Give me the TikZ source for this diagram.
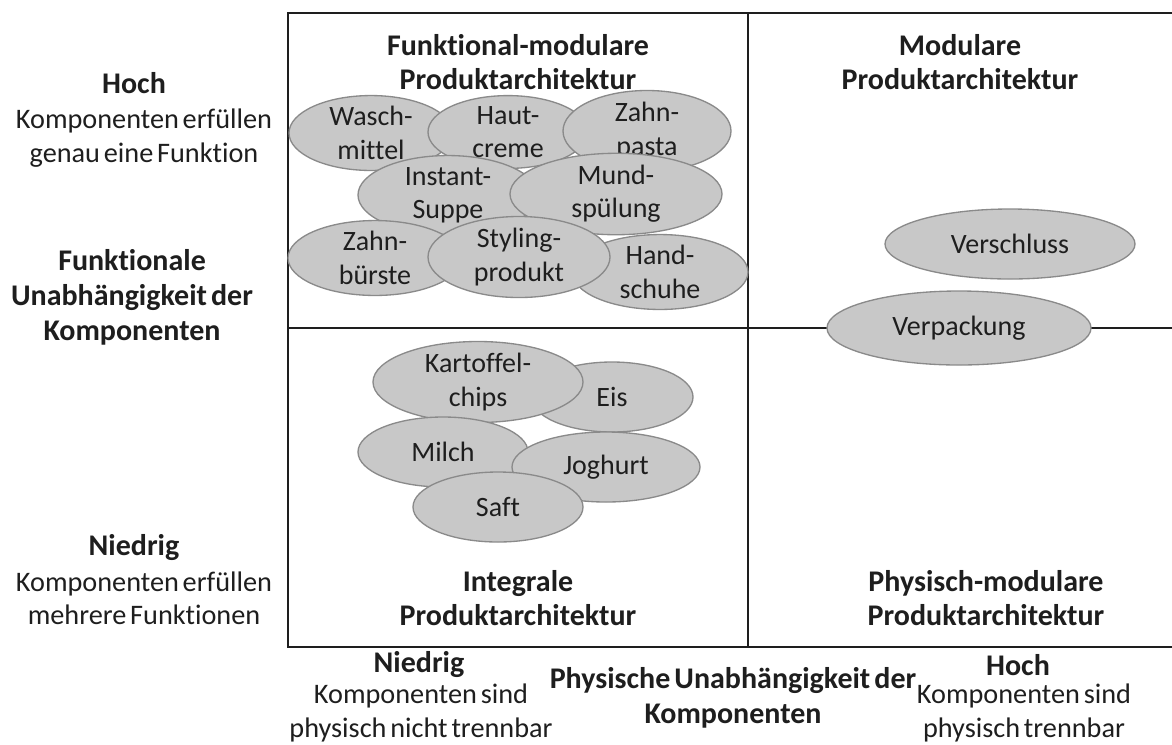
\documentclass[tikz,border=0pt]{standalone}
\usepackage{fontspec}
\setmainfont{Carlito}[Ligatures=CommonOff, WordSpace=0.6]
\usetikzlibrary{shapes.geometric}
\definecolor{ellfill}{HTML}{C8C8C8}
\definecolor{elldraw}{HTML}{8A8A8A}
\definecolor{txt}{HTML}{1E1E1E}
\tikzset{
  frameline/.style={line width=1.5pt, draw=txt},
  elps/.style 2 args={ellipse, draw=elldraw, fill=ellfill, line width=1pt,
    minimum width=#1*1.5pt, minimum height=#2*1.5pt, inner sep=0pt,
    align=center, text=txt, font=\fontsize{21}{25}\selectfont},
  lbl/.style={align=center, text=txt, inner sep=0pt, font=\fontsize{21.2}{25}\selectfont},
  blbl/.style={align=center, text=txt, inner sep=0pt, font=\fontsize{22.5}{25}\selectfont\bfseries},
  axlbl/.style={align=center, text=txt, inner sep=0pt, font=\fontsize{22.5}{26.3}\selectfont\bfseries},
}
\begin{document}
\begin{tikzpicture}[x=0.75pt, y=-0.75pt]
\useasboundingbox (0,0) rectangle (1172,744);
% frame
\coordinate (tl) at (288,13);
\coordinate (tr) at (1172,13);
\coordinate (bl) at (288,647);
\coordinate (br) at (1172,647);
\coordinate (mt) at (748,13);
\coordinate (mb) at (748,647);
\coordinate (ml) at (288,328);
\coordinate (mr) at (1172,328);
\draw[frameline] (tr) -- (tl) -- (bl) -- (br);
\draw[frameline] (mt) -- (mb);
\draw[frameline] (ml) -- (mr);
% quadrant titles
\node[blbl] (qtl) at (518,62) {Funktional-modulare\\Produktarchitektur};
\node[blbl] (qtr) at (960,62) {Modulare\\Produktarchitektur};
\node[blbl] (qbl) at (518,598) {Integrale\\Produktarchitektur};
\node[blbl] (qbr) at (986,598) {Physisch-modulare\\Produktarchitektur};
% top-left ellipses
\node[elps={82}{34}] (wasch) at (371,133) {Wasch-\\mittel};
\node[elps={80}{35}] (haut) at (508,132) {Haut-\\creme};
\node[elps={84}{32}] (zahnp) at (647,131) {Zahn-\\pasta};
\node[elps={90}{35}] (inst) at (448,195) {Instant-\\Suppe};
\node[elps={106}{34}] (mund) at (616,194) {Mund-\\spülung};
\node[elps={87}{35}] (zahnb) at (375,258) {Zahn-\\bürste};
\node[elps={88}{36}] (hand) at (660,272) {Hand-\\schuhe};
\node[elps={91}{35}] (styl) at (519,257) {Styling-\\produkt};
% right ellipses
\node[elps={125}{35}] (versch) at (1010,244) {Verschluss};
\node[elps={132}{37}] (verp) at (959,328) {Verpackung};
% bottom-left ellipses
\node[elps={81}{35}] (eis) at (612,397) {Eis};
\node[elps={105}{35}] (kart) at (478,382) {Kartoffel-\\chips};
\node[elps={85}{35}] (milch) at (443,452) {Milch};
\node[elps={94}{35}] (jog) at (606,467) {Joghurt};
\node[elps={85}{35}] (saft) at (498,507) {Saft};
% left labels
\node[blbl] (lhoch) at (134,83) {Hoch};
\node[lbl] (lhochd) at (144,138) {Komponenten erfüllen\\genau eine Funktion};
\node[axlbl] (laxis) at (132,297) {Funktionale\\Unabhängigkeit der\\Komponenten};
\node[blbl] (lnied) at (134,548) {Niedrig};
\node[lbl] (lniedd) at (144,598) {Komponenten erfüllen\\mehrere Funktionen};
% bottom labels
\node[blbl] (bnied) at (419,665) {Niedrig};
\node[lbl] (bniedd) at (421,713) {Komponenten sind\\physisch nicht trennbar};
\node[axlbl] (baxis) at (733,698) {Physische Unabhängigkeit der\\Komponenten};
\node[blbl] (bhoch) at (1018,665) {Hoch};
\node[lbl] (bhochd) at (1024,713) {Komponenten sind\\physisch trennbar};
\end{tikzpicture}
\end{document}
